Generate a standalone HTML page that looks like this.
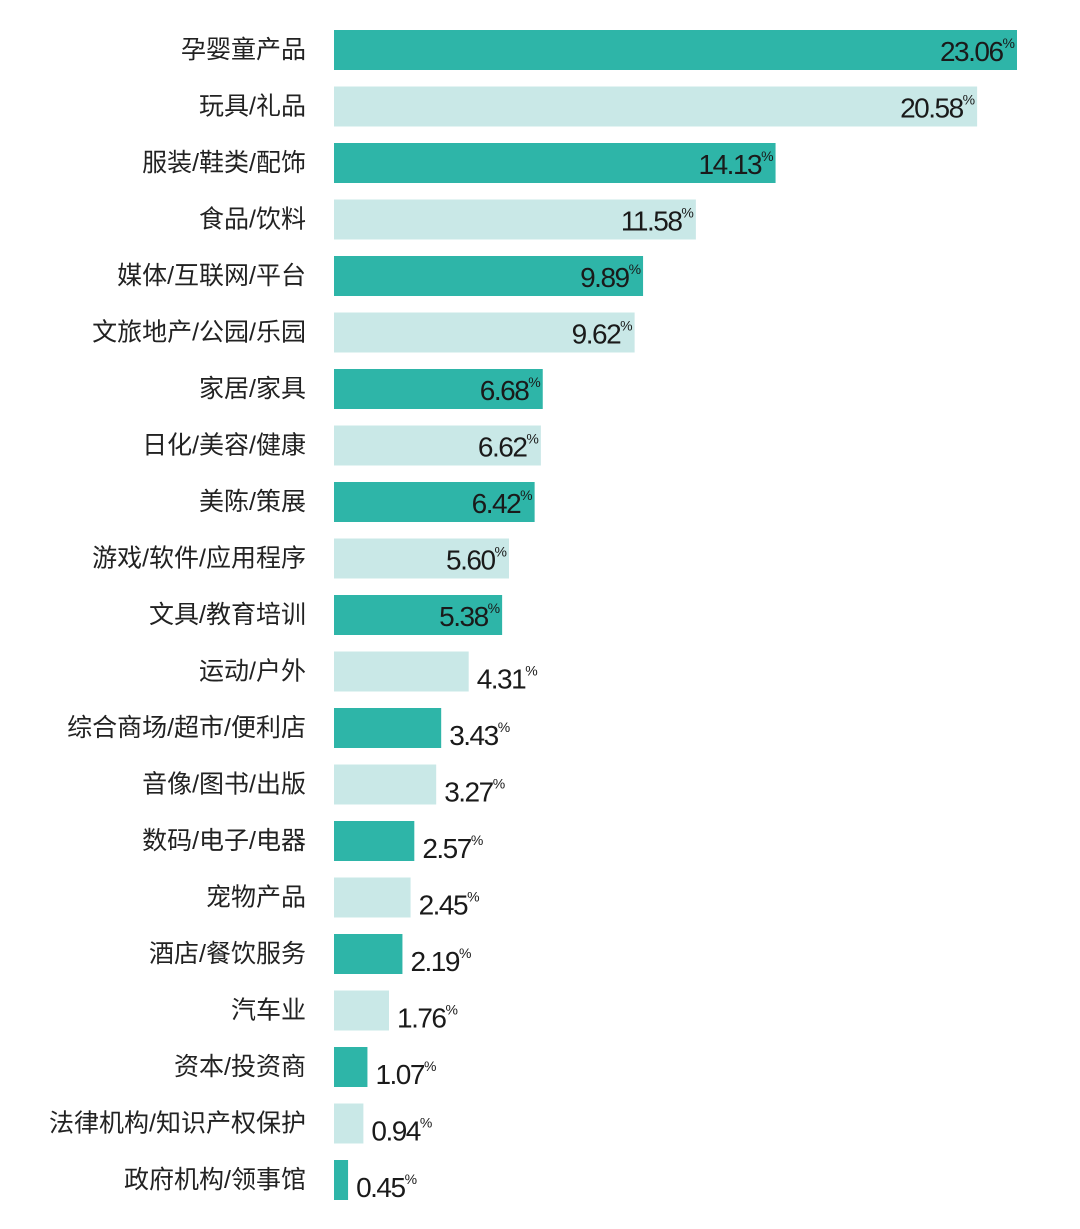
<!DOCTYPE html>
<html><head><meta charset="utf-8"><style>
body{margin:0;background:#fff}
svg{display:block}
.lab{font-family:"Liberation Sans","Noto Sans CJK SC",sans-serif;font-size:25px;fill:#222}
.val{font-family:"Liberation Sans",sans-serif;font-size:28px;fill:#1a1a1a;letter-spacing:-1.5px}
.pct{font-size:14px;letter-spacing:0}
</style></head><body>
<svg id="chart" width="1080" height="1229" xmlns="http://www.w3.org/2000/svg"></svg>
<script>
const categories=["孕婴童产品","玩具/礼品","服装/鞋类/配饰","食品/饮料","媒体/互联网/平台","文旅地产/公园/乐园","家居/家具","日化/美容/健康","美陈/策展","游戏/软件/应用程序","文具/教育培训","运动/户外","综合商场/超市/便利店","音像/图书/出版","数码/电子/电器","宠物产品","酒店/餐饮服务","汽车业","资本/投资商","法律机构/知识产权保护","政府机构/领事馆"];
const values=[23.06,20.58,14.13,11.58,9.89,9.62,6.68,6.62,6.42,5.60,5.38,4.31,3.43,3.27,2.57,2.45,2.19,1.76,1.07,0.94,0.45];
const labels=["23.06","20.58","14.13","11.58","9.89","9.62","6.68","6.62","6.42","5.60","5.38","4.31","3.43","3.27","2.57","2.45","2.19","1.76","1.07","0.94","0.45"];
const svg=document.getElementById('chart');
const NS="http://www.w3.org/2000/svg";
const x0=334,scale=31.25,maxW=683,y0=30,pitch=56.5,bh=40;
function xw(v){return Math.min(v*scale,maxW);}
function yb(i){return y0+i*pitch;}
values.forEach((v,i)=>{
  const y=yb(i),w=xw(v);
  const r=document.createElementNS(NS,'rect');
  
  
  r.setAttribute('x',x0);r.setAttribute('y',y);r.setAttribute('width',w);r.setAttribute('height',bh);
  r.setAttribute('fill',i%2?'#c9e8e7':'#2eb5a8');
  svg.appendChild(r);
  const t=document.createElementNS(NS,'text');
  
  
  t.setAttribute('class','lab');t.setAttribute('x',306);t.setAttribute('y',y+bh/2+8);t.setAttribute('text-anchor','end');
  t.textContent=categories[i];svg.appendChild(t);
  const inside=v>=5;
  const vt=document.createElementNS(NS,'text');
  
  
  vt.setAttribute('class','val');
  vt.setAttribute('x',inside?x0+w-2:x0+w+8);
  vt.setAttribute('y',y+bh/2+11+(inside?0:6));
  vt.setAttribute('text-anchor',inside?'end':'start');
  vt.innerHTML=labels[i]+'<tspan class="pct" dy="-13">%</tspan>';
  svg.appendChild(vt);
});
</script>
</body></html>
